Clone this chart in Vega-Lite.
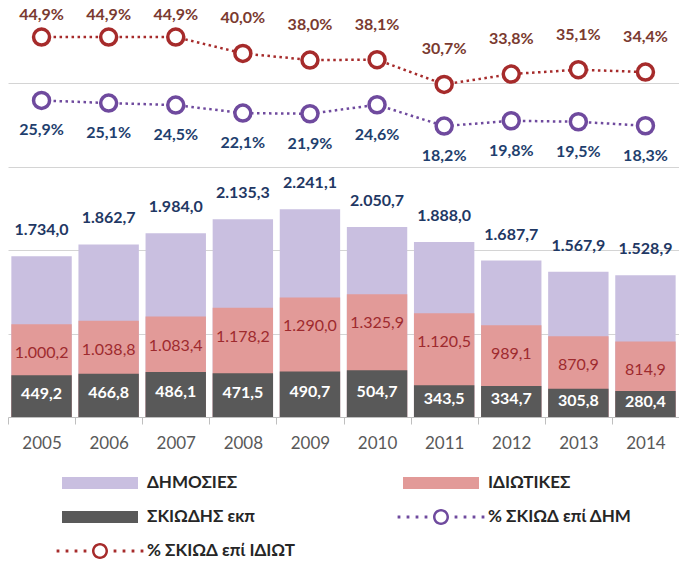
{
  "$schema": "https://vega.github.io/schema/vega-lite/v6.json",
  "width": 671,
  "height": 417,
  "autosize": "none",
  "padding": {"left": 8, "top": 0, "right": 0, "bottom": 150},
  "background": "white",
  "config": {
    "view": {"stroke": null},
    "font": "Lato",
    "locale": {"number": {"decimal": ",", "thousands": ".", "grouping": [3], "currency": ["", " €"]}}
  },
  "data": {"values": [
    {"year": "2005", "dim": 1734.0, "idiot": 1000.2, "skiod": 449.2, "p_idiot": 0.449, "p_dim": 0.259},
    {"year": "2006", "dim": 1862.7, "idiot": 1038.8, "skiod": 466.8, "p_idiot": 0.449, "p_dim": 0.251},
    {"year": "2007", "dim": 1984.0, "idiot": 1083.4, "skiod": 486.1, "p_idiot": 0.449, "p_dim": 0.245},
    {"year": "2008", "dim": 2135.3, "idiot": 1178.2, "skiod": 471.5, "p_idiot": 0.400, "p_dim": 0.221},
    {"year": "2009", "dim": 2241.1, "idiot": 1290.0, "skiod": 490.7, "p_idiot": 0.380, "p_dim": 0.219},
    {"year": "2010", "dim": 2050.7, "idiot": 1325.9, "skiod": 504.7, "p_idiot": 0.381, "p_dim": 0.246},
    {"year": "2011", "dim": 1888.0, "idiot": 1120.5, "skiod": 343.5, "p_idiot": 0.307, "p_dim": 0.182},
    {"year": "2012", "dim": 1687.7, "idiot": 989.1, "skiod": 334.7, "p_idiot": 0.338, "p_dim": 0.198},
    {"year": "2013", "dim": 1567.9, "idiot": 870.9, "skiod": 305.8, "p_idiot": 0.351, "p_dim": 0.195},
    {"year": "2014", "dim": 1528.9, "idiot": 814.9, "skiod": 280.4, "p_idiot": 0.344, "p_dim": 0.183}
  ]},
  "encoding": {
    "x": {
      "field": "year", "type": "ordinal", "title": null,
      "scale": {"paddingInner": 0.1, "paddingOuter": 0.05},
      "axis": {
        "labelAngle": 0, "labelFontSize": 17, "labelColor": "#595959",
        "domainColor": "#bfbfbf", "tickColor": "#bfbfbf", "tickSize": 7,
        "labelPadding": 11, "tickOffset": -33.55, "labelOffset": 33.55
      }
    }
  },
  "layer": [
    {
      "mark": {"type": "bar", "color": "#c9bfe0"},
      "encoding": {
        "y": {"field": "dim", "type": "quantitative", "scale": {"domain": [0, 4500], "nice": false, "zero": false},
          "axis": {"values": [900, 1800, 2700, 3600], "grid": true, "gridColor": "#d4d4d4", "labels": false, "ticks": false, "domain": false, "title": null}},
        "color": {
          "datum": "ΔΗΜΟΣΙΕΣ",
          "scale": {
            "domain": ["ΔΗΜΟΣΙΕΣ", "ΣΚΙΩΔΗΣ εκπ", "% ΣΚΙΩΔ επί ΙΔΙΩΤ", "ΙΔΙΩΤΙΚΕΣ", "% ΣΚΙΩΔ επί ΔΗΜ"],
            "range": ["#c9bfe0", "#595959", "#a62b2b", "#e29a98", "#6f4a9e"]
          },
          "legend": {
            "title": null, "orient": "none", "legendX": 82, "legendY": 473,
            "columns": 2, "columnPadding": 102, "rowPadding": 16, "padding": 0,
            "symbolSize": 400, "symbolOffset": 0, "labelOffset": 37,
            "labelFont": "Lato", "labelFontSize": 17, "labelFontWeight": "bold", "labelColor": "#262626",
            "labelLimit": 400,
            "encode": {
              "symbols": {
                "update": {
                  "shape": {"signal": "datum.value[0] == '%' ? 'M-4.34,-0.14H-4.06V0.14H-4.34Z M-3.44,-0.14H-3.16V0.14H-3.44Z M-2.54,-0.14H-2.26V0.14H-2.54Z M-1.64,-0.14H-1.36V0.14H-1.64Z M1.36,-0.14H1.64V0.14H1.36Z M2.26,-0.14H2.54V0.14H2.26Z M3.16,-0.14H3.44V0.14H3.16Z M4.06,-0.14H4.34V0.14H4.06Z M0.8,0A0.8,0.8 0 1,0 -0.8,0A0.8,0.8 0 1,0 0.8,0Z M0.55,0A0.55,0.55 0 1,1 -0.55,0A0.55,0.55 0 1,1 0.55,0Z' : 'M-3.8,-0.6H3.8V0.6H-3.8Z'"},
                  "fill": {"scale": "color", "field": "value"},
                  "stroke": {"value": "transparent"},
                  "strokeWidth": {"value": 0},
                  "opacity": {"value": 1}
                }
              }
            }
          }
        }
      }
    },
    {
      "mark": {"type": "bar"},
      "encoding": {
        "y": {"field": "idiot", "type": "quantitative", "scale": {"domain": [0, 4500], "nice": false, "zero": false}, "axis": null},
        "color": {"datum": "ΙΔΙΩΤΙΚΕΣ"}
      }
    },
    {
      "mark": {"type": "bar"},
      "encoding": {
        "y": {"field": "skiod", "type": "quantitative", "scale": {"domain": [0, 4500], "nice": false, "zero": false}, "axis": null},
        "color": {"datum": "ΣΚΙΩΔΗΣ εκπ"}
      }
    },
    {
      "mark": {"type": "text", "baseline": "middle", "dy": -26, "fontSize": 16, "fontWeight": "bold", "color": "#1f3864"},
      "encoding": {
        "y": {"field": "dim", "type": "quantitative", "scale": {"domain": [0, 4500], "nice": false, "zero": false}, "axis": null},
        "text": {"field": "dim", "type": "quantitative", "format": ",.1f"}
      }
    },
    {
      "mark": {"type": "text", "baseline": "middle", "dy": 29, "fontSize": 16, "color": "#9e2a2e"},
      "encoding": {
        "y": {"field": "idiot", "type": "quantitative", "scale": {"domain": [0, 4500], "nice": false, "zero": false}, "axis": null},
        "text": {"field": "idiot", "type": "quantitative", "format": ",.1f"}
      }
    },
    {
      "mark": {"type": "text", "baseline": "middle", "dy": -2, "fontSize": 16, "fontWeight": "bold", "color": "#ffffff"},
      "encoding": {
        "y": {"field": "skiod", "type": "quantitative", "scale": {"domain": [0, 9000], "nice": false, "zero": false}, "axis": null},
        "text": {"field": "skiod", "type": "quantitative", "format": ",.1f"}
      }
    },
    {
      "mark": {"type": "line", "color": "#a62b2b", "strokeWidth": 2.5, "strokeDash": [2.5, 3.5]},
      "encoding": {
        "y": {"field": "p_idiot", "type": "quantitative", "scale": {"domain": [-0.69, 0.56], "nice": false, "zero": false}, "axis": null}
      }
    },
    {
      "mark": {"type": "line", "color": "#6f4a9e", "strokeWidth": 2.5, "strokeDash": [2.5, 3.5]},
      "encoding": {
        "y": {"field": "p_dim", "type": "quantitative", "scale": {"domain": [-0.69, 0.56], "nice": false, "zero": false}, "axis": null}
      }
    },
    {
      "mark": {"type": "point", "shape": "circle", "filled": false, "fill": "white", "fillOpacity": 1, "stroke": "#a62b2b", "strokeWidth": 3.5, "size": 256, "opacity": 1},
      "encoding": {
        "y": {"field": "p_idiot", "type": "quantitative", "scale": {"domain": [-0.69, 0.56], "nice": false, "zero": false}, "axis": null}
      }
    },
    {
      "mark": {"type": "point", "shape": "circle", "filled": false, "fill": "white", "fillOpacity": 1, "stroke": "#6f4a9e", "strokeWidth": 3.5, "size": 256, "opacity": 1},
      "encoding": {
        "y": {"field": "p_dim", "type": "quantitative", "scale": {"domain": [-0.69, 0.56], "nice": false, "zero": false}, "axis": null}
      }
    },
    {
      "mark": {"type": "text", "baseline": "middle", "dy": {"expr": "datum.p_idiot > 0.44 ? -22 : -35"}, "fontSize": 16, "fontWeight": "bold", "color": "#7a3a30"},
      "encoding": {
        "y": {"field": "p_idiot", "type": "quantitative", "scale": {"domain": [-0.69, 0.56], "nice": false, "zero": false}, "axis": null},
        "text": {"field": "p_idiot", "type": "quantitative", "format": ".1%"}
      }
    },
    {
      "mark": {"type": "text", "baseline": "middle", "dy": 30, "fontSize": 16, "fontWeight": "bold", "color": "#1f3f6e"},
      "encoding": {
        "y": {"field": "p_dim", "type": "quantitative", "scale": {"domain": [-0.69, 0.56], "nice": false, "zero": false}, "axis": null},
        "text": {"field": "p_dim", "type": "quantitative", "format": ".1%"}
      }
    }
  ],
  "resolve": {"scale": {"y": "independent"}}
}
